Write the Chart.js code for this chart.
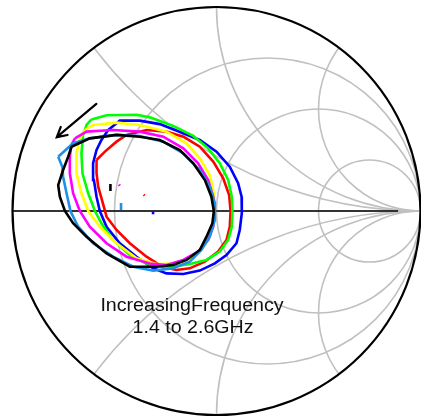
<!DOCTYPE html>
<html>
<head>
<meta charset="utf-8">
<script src="https://cdn.jsdelivr.net/npm/chart.js@4/dist/chart.umd.min.js"></script>
<style>
  html, body { margin: 0; padding: 0; background: #ffffff; }
  canvas { display: block; }
</style>
</head>
<body>
<canvas id="smith" width="421" height="418"></canvas>
<script>
// Reflection coefficient loops [Re(Γ), Im(Γ)] swept from 1.4 to 2.6 GHz
const blackLoop = [[-0.711,0.315],[-0.621,0.356],[-0.490,0.373],[-0.376,0.364],[-0.278,0.348],[-0.180,0.299],[-0.114,0.234],[-0.057,0.152],[-0.025,0.070],[-0.013,0.000],[-0.020,-0.060],[-0.049,-0.126],[-0.082,-0.191],[-0.147,-0.240],[-0.212,-0.265],[-0.294,-0.273],[-0.425,-0.273],[-0.539,-0.208],[-0.637,-0.126],[-0.703,-0.060],[-0.743,0.000],[-0.768,0.070],[-0.776,0.127],[-0.752,0.201],[-0.727,0.266],[-0.711,0.315]];
const lightBlueLoop = [[-0.776,0.266],[-0.703,0.332],[-0.621,0.356],[-0.490,0.373],[-0.376,0.368],[-0.261,0.340],[-0.163,0.283],[-0.082,0.201],[-0.033,0.119],[-0.008,0.038],[-0.008,-0.044],[-0.033,-0.126],[-0.074,-0.191],[-0.131,-0.248],[-0.212,-0.281],[-0.310,-0.292],[-0.408,-0.273],[-0.507,-0.224],[-0.605,-0.158],[-0.678,-0.077],[-0.716,0.000],[-0.735,0.087],[-0.752,0.168],[-0.755,0.214],[-0.776,0.266]];
const magentaLoop = [[-0.694,0.356],[-0.637,0.389],[-0.507,0.397],[-0.376,0.389],[-0.261,0.364],[-0.163,0.307],[-0.090,0.234],[-0.041,0.152],[-0.016,0.070],[-0.008,0.000],[-0.016,-0.077],[-0.041,-0.142],[-0.090,-0.199],[-0.163,-0.240],[-0.245,-0.265],[-0.327,-0.257],[-0.441,-0.224],[-0.539,-0.158],[-0.621,-0.077],[-0.670,0.000],[-0.703,0.087],[-0.719,0.185],[-0.719,0.266],[-0.711,0.324],[-0.694,0.356]];
const yellowLoop = [[-0.645,0.397],[-0.605,0.422],[-0.490,0.433],[-0.376,0.422],[-0.245,0.389],[-0.147,0.332],[-0.082,0.258],[-0.033,0.176],[-0.013,0.087],[-0.008,0.000],[-0.025,-0.093],[-0.057,-0.167],[-0.114,-0.224],[-0.196,-0.257],[-0.294,-0.260],[-0.392,-0.232],[-0.490,-0.158],[-0.572,-0.077],[-0.629,0.000],[-0.662,0.087],[-0.686,0.185],[-0.686,0.283],[-0.670,0.356],[-0.645,0.397]];
const greenLoop = [[-0.613,0.449],[-0.539,0.469],[-0.392,0.472],[-0.327,0.459],[-0.212,0.417],[-0.114,0.368],[-0.041,0.307],[0.016,0.234],[0.057,0.152],[0.075,0.070],[0.078,0.000],[0.075,-0.077],[0.057,-0.142],[0.016,-0.199],[-0.049,-0.240],[-0.131,-0.260],[-0.229,-0.276],[-0.327,-0.265],[-0.425,-0.216],[-0.515,-0.134],[-0.564,-0.060],[-0.596,0.000],[-0.629,0.087],[-0.657,0.185],[-0.662,0.283],[-0.654,0.373],[-0.637,0.422],[-0.613,0.449]];
const redLoop = [[-0.588,0.250],[-0.547,0.291],[-0.490,0.340],[-0.441,0.373],[-0.343,0.397],[-0.245,0.389],[-0.163,0.364],[-0.082,0.315],[-0.016,0.242],[0.033,0.160],[0.062,0.078],[0.069,0.000],[0.065,-0.077],[0.049,-0.142],[0.008,-0.199],[-0.057,-0.248],[-0.131,-0.281],[-0.196,-0.289],[-0.261,-0.276],[-0.343,-0.224],[-0.425,-0.158],[-0.490,-0.093],[-0.539,-0.028],[-0.552,0.020],[-0.580,0.119],[-0.588,0.185],[-0.588,0.250]];
const blueLoop = [[-0.531,0.397],[-0.474,0.443],[-0.376,0.443],[-0.278,0.426],[-0.163,0.381],[-0.082,0.348],[0.000,0.291],[0.065,0.217],[0.106,0.136],[0.123,0.070],[0.124,-0.011],[0.114,-0.093],[0.098,-0.158],[0.049,-0.216],[-0.008,-0.257],[-0.082,-0.292],[-0.163,-0.309],[-0.245,-0.306],[-0.310,-0.281],[-0.392,-0.224],[-0.474,-0.158],[-0.539,-0.077],[-0.572,0.000],[-0.588,0.070],[-0.601,0.152],[-0.605,0.234],[-0.588,0.299],[-0.564,0.348],[-0.531,0.397]];

// Short centre markers for each sweep
const blackMark = [[-0.520,0.132],[-0.520,0.098]];
const lightBlueMark = [[-0.468,0.039],[-0.468,0.005]];
const magentaMark = [[-0.478,0.130],[-0.474,0.124]];
const redMark = [[-0.357,0.080],[-0.352,0.076]];
const blueMark = [[-0.311,-0.004],[-0.311,-0.016]];

// Smith chart grid values
const resistanceCircles = [1/3, 1, 3];
const reactanceArcs = [0.5, 1, 2];

const seriesColors = {
  black: '#000000',
  lightBlue: '#1e90e8',
  magenta: '#ff00ff',
  yellow: '#ffff00',
  green: '#00ff00',
  red: '#ff0000',
  blue: '#0000ff'
};

const toPoints = arr => arr.map(p => ({x: p[0], y: p[1]}));

function loop(data, color) {
  return {
    data: toPoints(data),
    showLine: true,
    borderColor: color,
    backgroundColor: color,
    borderWidth: 2.6,
    pointRadius: 0,
    tension: 0,
    borderJoinStyle: 'miter',
    fill: false
  };
}

function mark(data, color) {
  return {
    data: toPoints(data),
    showLine: true,
    borderColor: color,
    borderWidth: 2.6,
    pointRadius: 0,
    fill: false
  };
}

const smithGrid = {
  id: 'smithGrid',
  beforeDatasetsDraw(chart) {
    const ctx = chart.ctx;
    const xs = chart.scales.x, ys = chart.scales.y;
    const cx = xs.getPixelForValue(0), cy = ys.getPixelForValue(0);
    const R = xs.getPixelForValue(1) - cx;
    const px = v => xs.getPixelForValue(v);
    const py = v => ys.getPixelForValue(v);
    ctx.save();
    ctx.beginPath();
    ctx.arc(cx, cy, R, 0, Math.PI * 2);
    ctx.clip();
    ctx.strokeStyle = '#c0c0c0';
    ctx.lineWidth = 1.6;
    resistanceCircles.forEach(r => {
      ctx.beginPath();
      ctx.arc(px(r / (1 + r)), cy, R / (1 + r), 0, Math.PI * 2);
      ctx.stroke();
    });
    reactanceArcs.forEach(x => {
      [1, -1].forEach(s => {
        ctx.beginPath();
        ctx.arc(px(1), py(s / x), R / x, 0, Math.PI * 2);
        ctx.stroke();
      });
    });
    ctx.beginPath();
    ctx.moveTo(px(-1), cy);
    ctx.lineTo(px(1), cy);
    ctx.stroke();
    ctx.restore();

    ctx.save();
    ctx.strokeStyle = '#000000';
    ctx.lineWidth = 1.5;
    ctx.beginPath();
    ctx.moveTo(px(-1), cy);
    ctx.lineTo(px(0.89), cy);
    ctx.stroke();
    ctx.lineWidth = 2.2;
    ctx.beginPath();
    ctx.arc(cx, cy, R, 0, Math.PI * 2);
    ctx.stroke();
    ctx.restore();
  },
  afterDatasetsDraw(chart) {
    const ctx = chart.ctx;
    const xs = chart.scales.x, ys = chart.scales.y;
    const px = v => xs.getPixelForValue(v);
    const py = v => ys.getPixelForValue(v);
    // sweep direction arrow
    const tail = [-0.589, 0.525], tip = [-0.783, 0.362];
    const tx = px(tip[0]), ty = py(tip[1]);
    const ang = Math.atan2(ty - py(tail[1]), tx - px(tail[0]));
    ctx.save();
    ctx.strokeStyle = '#000000';
    ctx.lineWidth = 2.2;
    ctx.lineCap = 'round';
    ctx.beginPath();
    ctx.moveTo(px(tail[0]), py(tail[1]));
    ctx.lineTo(tx, ty);
    ctx.moveTo(tx + 11 * Math.cos(ang + Math.PI - 0.5), ty + 11 * Math.sin(ang + Math.PI - 0.5));
    ctx.lineTo(tx, ty);
    ctx.lineTo(tx + 11 * Math.cos(ang + Math.PI + 0.5), ty + 11 * Math.sin(ang + Math.PI + 0.5));
    ctx.stroke();
    ctx.restore();
    // caption, set slightly wide
    const caption = [['IncreasingFrequency', -0.12, -0.489], ['1.4 to 2.6GHz', -0.115, -0.60]];
    caption.forEach(([text, gx, gy]) => {
      ctx.save();
      ctx.translate(px(gx), py(gy));
      ctx.scale(1.09, 1);
      ctx.fillStyle = '#111111';
      ctx.font = '18px "Liberation Sans", Arial, sans-serif';
      ctx.textAlign = 'center';
      ctx.textBaseline = 'alphabetic';
      ctx.fillText(text, 0, 0);
      ctx.restore();
    });
  }
};

new Chart(document.getElementById('smith'), {
  type: 'scatter',
  data: {
    datasets: [
      loop(blackLoop, seriesColors.black),
      loop(lightBlueLoop, seriesColors.lightBlue),
      loop(magentaLoop, seriesColors.magenta),
      loop(yellowLoop, seriesColors.yellow),
      loop(greenLoop, seriesColors.green),
      loop(redLoop, seriesColors.red),
      loop(blueLoop, seriesColors.blue),
      mark(blackMark, seriesColors.black),
      mark(lightBlueMark, seriesColors.lightBlue),
      mark(magentaMark, seriesColors.magenta),
      mark(redMark, seriesColors.red),
      mark(blueMark, seriesColors.blue)
    ]
  },
  options: {
    responsive: false,
    animation: false,
    devicePixelRatio: 1,
    layout: { padding: { left: 12.5, right: 0.5, top: 7, bottom: 3 } },
    scales: {
      x: { type: 'linear', min: -1, max: 1, display: false },
      y: { type: 'linear', min: -1, max: 1, display: false }
    },
    plugins: {
      legend: { display: false },
      tooltip: { enabled: false }
    }
  },
  plugins: [smithGrid]
});
</script>
</body>
</html>
